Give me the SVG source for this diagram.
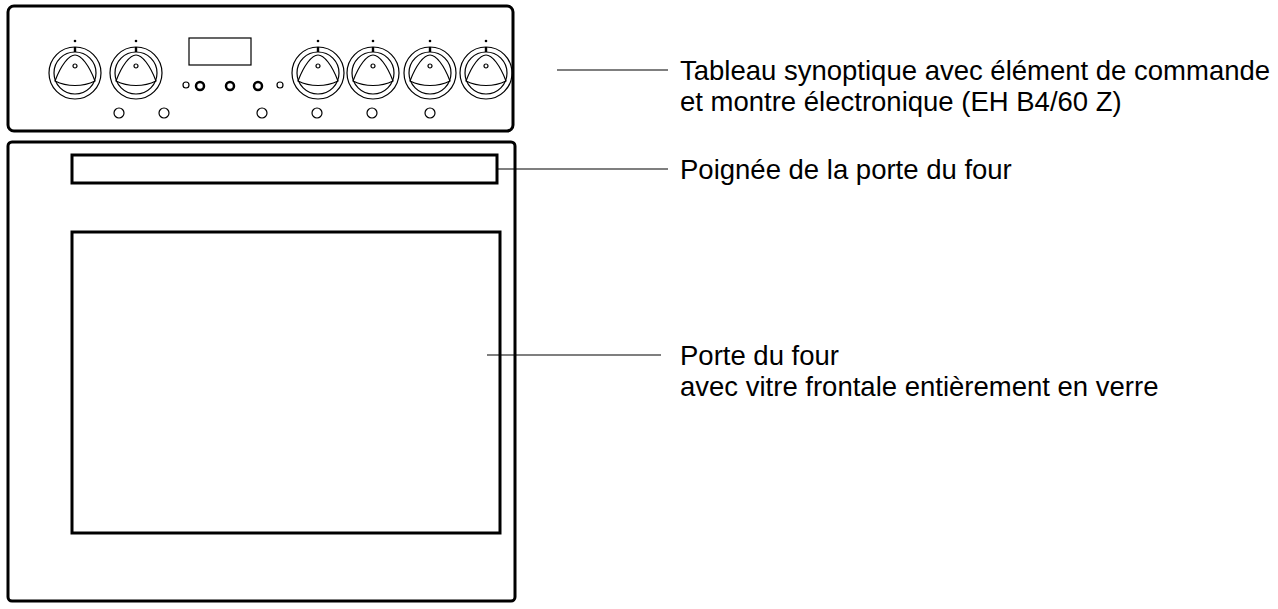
<svg xmlns="http://www.w3.org/2000/svg" width="1278" height="609" viewBox="0 0 1278 609">
<style>
.o{fill:none;stroke:#000;stroke-width:3}
.t{fill:none;stroke:#000;stroke-width:1.2}
.l{stroke:#000;stroke-width:1.2}
text{font-family:"Liberation Sans",Arial,sans-serif;font-size:27.5px;fill:#000}
</style>
<defs>
<g id="knob">
<circle r="26" class="t"/><circle r="21" class="t"/>
<path d="M-20,8 C-14,-8 -6,-18 0,-18 C6,-18 14,-8 20,8 C8,14 -8,14 -20,8Z" class="t"/>
<circle cy="-7" r="2" class="t"/>
<circle cy="-32" r="1.3"/>
<rect x="-1.2" y="-26" width="2.4" height="5"/>
</g>
</defs>
<rect width="1278" height="609" fill="#fff"/>
<g id="panel">
<rect x="8" y="6" width="505" height="125" rx="6" class="o"/>
<use href="#knob" x="75" y="73"/><use href="#knob" x="136" y="73"/>
<use href="#knob" x="318" y="73"/><use href="#knob" x="373" y="73"/>
<use href="#knob" x="430" y="73"/><use href="#knob" x="486" y="73"/>
<rect x="189" y="38" width="62" height="27" class="t"/>
<circle cx="200" cy="86" r="4" fill="none" stroke="#000" stroke-width="2.5"/>
<circle cx="230" cy="86" r="4" fill="none" stroke="#000" stroke-width="2.5"/>
<circle cx="258" cy="86" r="4" fill="none" stroke="#000" stroke-width="2.5"/>
<circle cx="119" cy="113" r="5" class="t"/>
<circle cx="164" cy="113" r="5" class="t"/>
<circle cx="262" cy="113" r="5" class="t"/><circle cx="317" cy="113" r="5" class="t"/>
<circle cx="372" cy="113" r="5" class="t"/><circle cx="430" cy="113" r="5" class="t"/>
<circle cx="186" cy="85" r="3" class="t"/><circle cx="280" cy="85" r="3" class="t"/>
</g>
<g id="door">
<rect x="8" y="142" width="507" height="459" rx="4" class="o"/>
</g>
<g id="handle"><rect x="72" y="155" width="425" height="28" class="o"/></g>
<g id="window"><rect x="72" y="232" width="428" height="301" class="o"/></g>
<g id="connectors">
<line x1="557" y1="70" x2="668" y2="70" class="l"/>
<line x1="497" y1="169" x2="668" y2="169" class="l"/>
<line x1="487" y1="355" x2="661" y2="355" class="l"/>
</g>
<g id="labels">
<text x="680" y="80">Tableau synoptique avec élément de commande</text>
<text x="680" y="111">et montre électronique (EH B4/60 Z)</text>
<text x="680" y="179">Poignée de la porte du four</text>
<text x="680" y="365">Porte du four</text>
<text x="680" y="396">avec vitre frontale entièrement en verre</text>
</g>
</svg>
